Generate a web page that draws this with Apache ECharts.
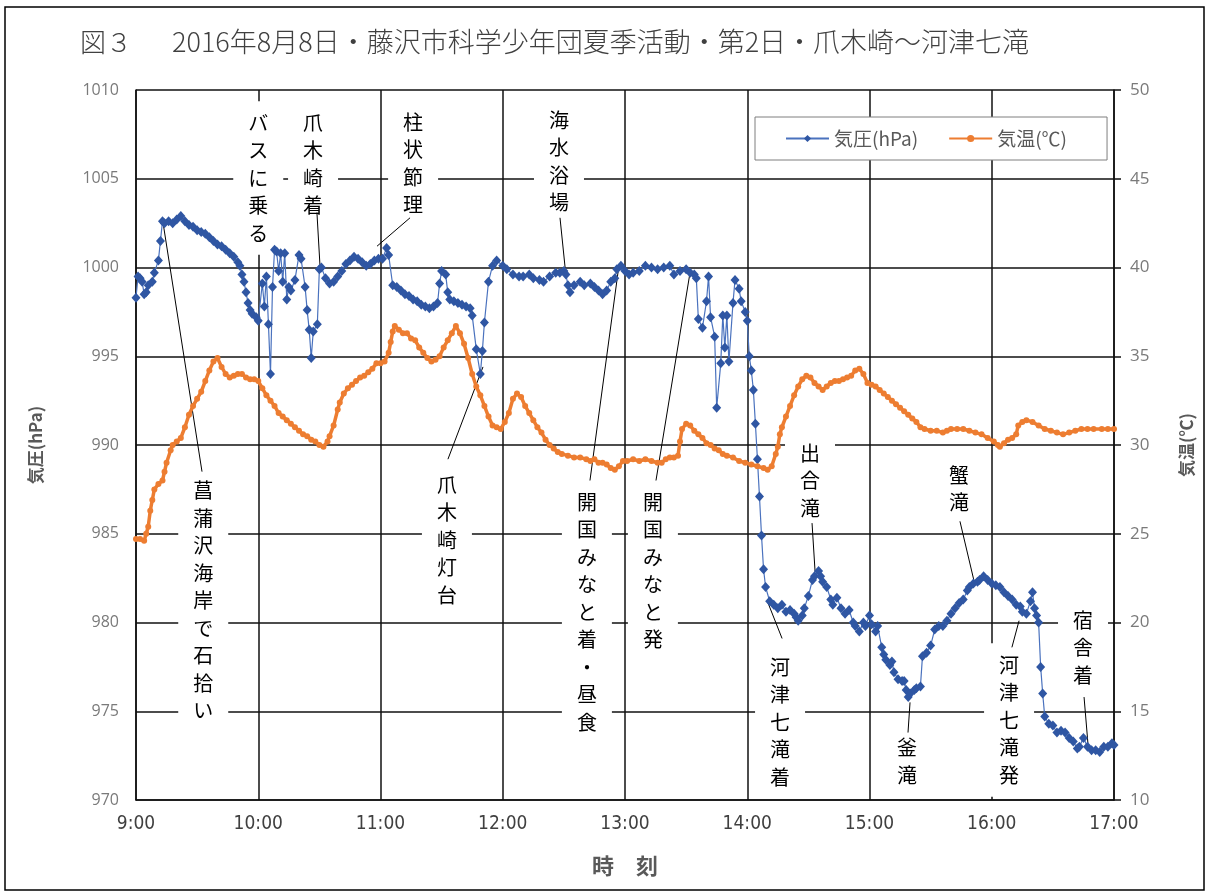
<!DOCTYPE html>
<html>
<head>
<meta charset="utf-8">
<script src="https://cdn.jsdelivr.net/npm/echarts@6/dist/echarts.min.js"></script>
<style>
  html, body { margin: 0; padding: 0; background: #fff; }
  #chart { width: 1208px; height: 893px; }
</style>
</head>
<body>
<div id="chart"></div>
<script>
// Time axis: minutes after 9:00
const xTickLabels = ['9:00', '10:00', '11:00', '12:00', '13:00', '14:00', '15:00', '16:00', '17:00'];

// 気圧 (hPa)
const pressureMin = [
  0, 1, 2, 3, 4, 5, 6, 8, 9, 11, 12, 13, 14, 16, 18, 20, 22, 24, 26, 28, 30, 32, 34, 36, 38, 40, 42, 44, 46, 48,
  50, 51, 52, 53, 54, 55, 56, 57, 59, 60, 62, 63, 64, 65, 66, 67, 68, 69, 70, 71, 72, 73, 74, 75, 76, 78, 80, 81,
  83, 84, 85, 86, 87, 89, 90, 91, 93, 95, 97, 99, 101, 103, 105, 107, 109, 111, 113, 115, 117, 119, 121, 123, 124,
  126, 128, 130, 132, 134, 136, 138, 140, 142, 144, 146, 148, 149, 150, 152, 153, 154, 156, 158, 160, 162, 164,
  165, 167, 169, 170, 171, 173, 175, 177, 180, 182, 185, 188, 190, 193, 195, 198, 200, 203, 206, 208, 210, 211,
  212, 213, 215, 218, 220, 223, 225, 227, 229, 231, 233, 235, 236, 238, 240, 242, 244, 247, 250, 253, 256, 259,
  262, 264, 267, 270, 272, 274, 275, 276, 278, 280, 281, 282, 284, 285, 287, 288, 289, 290, 291, 293, 294, 296,
  297, 299, 300, 301, 302, 303, 304, 305, 306, 307, 308, 309, 311, 313, 315, 317, 319, 321, 323, 324, 325, 327,
  328, 330, 332, 333, 335, 336, 337, 339, 341, 342, 344, 346, 348, 350, 352, 353, 355, 357, 358, 360, 361, 363,
  364, 366, 367, 368, 370, 371, 372, 374, 376, 377, 378, 379, 380, 382, 383, 385, 386, 388, 390, 392, 394, 396,
  398, 400, 402, 404, 406, 408, 409, 411, 413, 414, 416, 418, 420, 422, 424, 426, 428, 430, 432, 434, 435, 437,
  439, 440, 441, 442, 443, 444, 445, 446, 448, 450, 452, 454, 456, 458, 460, 462, 463, 465, 467, 469, 471, 473,
  475, 477, 479, 480
];
const pressureHpa = [
  998.3, 999.5, 999.4, 999.2, 998.5, 998.6, 999.0, 999.2, 999.7, 1000.4, 1001.5, 1002.6, 1002.5, 1002.6, 1002.5,
  1002.7, 1002.9, 1002.6, 1002.4, 1002.3, 1002.1, 1002.0, 1001.9, 1001.7, 1001.5, 1001.3, 1001.2, 1001.0, 1000.8,
  1000.6, 1000.3, 1000.1, 999.6, 999.2, 998.6, 998.0, 997.6, 997.4, 997.2, 997.0, 999.1, 997.8, 999.5, 996.8,
  994.0, 998.9, 1001.0, 1000.9, 999.8, 1000.8, 999.2, 1000.8, 998.2, 998.9, 998.7, 999.3, 1000.7, 1000.5, 998.9,
  997.6, 996.5, 994.9, 996.4, 996.8, 999.9, 1000.0, 999.4, 999.1, 999.2, 999.5, 999.8, 1000.2, 1000.4, 1000.6,
  1000.5, 1000.3, 1000.1, 1000.2, 1000.4, 1000.5, 1000.5, 1001.1, 1000.7, 999.0, 998.9, 998.7, 998.5, 998.4,
  998.2, 998.1, 997.9, 997.8, 997.7, 997.8, 998.0, 999.1, 999.8, 999.6, 998.6, 998.2, 998.1, 998.0, 997.9,
  997.8, 997.7, 997.3, 995.4, 994.0, 995.3, 996.9, 999.2, 1000.1, 1000.4, 1000.1, 999.9, 999.6, 999.5, 999.5,
  999.6, 999.4, 999.3, 999.2, 999.5, 999.7, 999.7, 999.8, 999.6, 999.0, 998.6, 999.0, 999.2, 999.0, 999.1,
  998.9, 998.7, 998.5, 998.7, 999.2, 999.4, 999.9, 1000.1, 999.8, 999.6, 999.7, 999.8, 1000.1, 1000.0, 999.9,
  1000.0, 1000.1, 999.6, 999.8, 999.9, 999.7, 999.6, 999.4, 997.1, 996.6, 998.1, 999.5, 997.2, 996.1, 992.1,
  994.6, 997.3, 995.5, 997.3, 994.7, 998.0, 999.3, 998.8, 998.1, 997.5, 997.0, 995.0, 994.2, 993.1, 991.2,
  989.2, 987.1, 984.9, 983.0, 982.0, 981.2, 981.0, 980.8, 981.0, 980.6, 980.7, 980.5, 980.3, 980.1, 980.4,
  980.8, 981.5, 982.4, 982.6, 982.9, 982.6, 982.3, 982.0, 981.3, 981.0, 981.4, 980.8, 980.5, 980.7, 980.0,
  979.8, 979.5, 980.0, 979.8, 980.4, 979.9, 979.5, 979.8, 978.6, 978.2, 977.9, 977.6, 977.8, 977.2, 976.8,
  976.7, 976.7, 976.2, 975.8, 976.0, 976.2, 976.3, 976.4, 978.1, 978.3, 978.7, 979.6, 979.8, 979.8, 980.1,
  980.5, 980.8, 981.1, 981.3, 981.8, 982.0, 982.2, 982.3, 982.4, 982.6, 982.4, 982.2, 982.1, 982.0, 981.7,
  981.5, 981.3, 981.0, 980.9, 980.6, 980.5, 981.2, 981.7, 980.8, 980.4, 980.0, 977.5, 976.0, 974.7, 974.3,
  974.2, 973.8, 973.9, 973.8, 973.5, 973.3, 972.9, 973.0, 973.5, 973.0, 972.8, 972.8, 972.7, 973.0, 973.0,
  973.2, 973.1, 973.1
];

// 気温 (℃)
const tempMin = [
  0, 2, 4, 5, 6, 7, 8, 9, 11, 13, 14, 15, 17, 18, 20, 22, 24, 26, 28, 30, 32, 34, 36, 38, 40, 42, 44, 46, 48, 50,
  52, 54, 56, 58, 60, 62, 64, 66, 68, 70, 72, 74, 76, 78, 80, 82, 84, 86, 88, 90, 92, 94, 95, 97, 99, 100, 102,
  104, 106, 108, 110, 112, 114, 116, 118, 120, 122, 124, 125, 126, 127, 129, 131, 133, 135, 137, 139, 141, 143,
  145, 147, 149, 151, 153, 155, 157, 159, 161, 163, 165, 167, 169, 171, 173, 175, 177, 179, 181, 183, 185, 187,
  189, 191, 193, 195, 197, 199, 201, 203, 205, 207, 209, 212, 215, 218, 221, 223, 225, 227, 229, 231, 233, 235,
  237, 239, 241, 244, 247, 250, 253, 256, 258, 260, 262, 264, 266, 267, 268, 270, 272, 274, 276, 278, 280, 282,
  284, 286, 288, 290, 293, 296, 299, 302, 305, 308, 310, 312, 314, 315, 316, 317, 319, 321, 323, 325, 327, 329,
  331, 333, 335, 337, 339, 341, 343, 345, 347, 349, 351, 353, 355, 357, 359, 361, 363, 365, 367, 369, 371, 373,
  375, 377, 379, 381, 383, 385, 387, 390, 393, 396, 398, 400, 403, 406, 409, 412, 415, 418, 421, 423, 424, 426,
  428, 430, 432, 433, 435, 437, 440, 443, 446, 449, 452, 455, 458, 461, 464, 467, 470, 474, 477, 480
];
const tempC = [
  24.7, 24.7, 24.6, 25.0, 25.4, 26.3, 26.9, 27.5, 27.8, 28.0, 28.5, 29.0, 29.7, 30.0, 30.2, 30.4, 31.0, 31.7,
  32.2, 32.6, 33.0, 33.6, 34.2, 34.7, 34.9, 34.4, 34.0, 33.8, 33.9, 34.0, 34.0, 33.8, 33.7, 33.7, 33.6, 33.2,
  32.8, 32.5, 32.2, 31.8, 31.6, 31.4, 31.2, 31.0, 30.8, 30.6, 30.5, 30.3, 30.2, 30.0, 29.9, 30.2, 30.5, 31.1,
  32.0, 32.4, 32.9, 33.2, 33.4, 33.6, 33.8, 33.9, 34.1, 34.3, 34.6, 34.6, 34.7, 35.2, 35.8, 36.4, 36.7, 36.5,
  36.3, 36.3, 36.0, 35.9, 35.5, 35.2, 34.9, 34.7, 34.8, 35.0, 35.5, 35.9, 36.3, 36.7, 36.3, 35.7, 34.9, 34.0,
  33.3, 32.8, 32.2, 31.6, 31.1, 31.0, 30.9, 31.3, 31.8, 32.6, 32.9, 32.7, 32.2, 31.8, 31.4, 31.0, 30.7, 30.3,
  30.0, 29.8, 29.6, 29.5, 29.4, 29.3, 29.3, 29.2, 29.1, 29.2, 29.0, 29.0, 28.9, 28.7, 28.6, 28.8, 29.1, 29.1,
  29.2, 29.1, 29.2, 29.1, 29.0, 29.0, 29.2, 29.3, 29.3, 29.4, 30.2, 30.9, 31.2, 31.1, 30.8, 30.6, 30.4, 30.1,
  30.0, 29.8, 29.7, 29.5, 29.4, 29.3, 29.1, 29.0, 28.9, 28.8, 28.7, 28.6, 28.8, 29.5, 29.9, 30.6, 31.0, 31.6,
  32.2, 32.8, 33.3, 33.7, 33.9, 33.8, 33.5, 33.3, 33.1, 33.3, 33.5, 33.6, 33.6, 33.7, 33.8, 33.9, 34.2, 34.3,
  34.0, 33.5, 33.4, 33.3, 33.1, 32.9, 32.7, 32.5, 32.3, 32.1, 31.9, 31.7, 31.5, 31.3, 31.0, 30.9, 30.8, 30.8,
  30.7, 30.8, 30.9, 30.9, 30.9, 30.8, 30.7, 30.6, 30.4, 30.2, 30.0, 29.9, 30.1, 30.3, 30.4, 30.6, 31.1, 31.3,
  31.4, 31.3, 31.1, 30.9, 30.8, 30.7, 30.6, 30.7, 30.8, 30.9, 30.9, 30.9, 30.9, 30.9, 30.9
];

// Event notes: text, top-centre of the vertical label [min, hPa], leader line [from, to]
const notes = [
  { text: '菖蒲沢海岸で石拾い', at: [33, 988.0], leader: [[32.4, 988.5], [13.3, 1002.5]] },
  { text: 'バスに乗る', at: [60, 1008.7], leader: null },
  { text: '爪木崎着', at: [86.9, 1008.7], leader: [[88.8, 1003.1], [90.3, 1000.1]] },
  { text: '柱状節理', at: [136, 1008.76], leader: [[134.5, 1002.8], [118.3, 1001.2]] },
  { text: '海水浴場', at: [207.6, 1008.87], leader: [[208.1, 1002.8], [210.6, 1000.0]] },
  { text: '爪木崎灯台', at: [152.6, 988.3], leader: [[153.1, 989.2], [170.3, 994.4]] },
  { text: '開国みなと着・昼食', at: [221.3, 987.35], leader: [[222.8, 988.0], [236.6, 999.75]] },
  { text: '開国みなと発', at: [253.7, 987.35], leader: [[255.2, 988.0], [271.9, 999.7]] },
  { text: '出合滝', at: [330.8, 990.1], leader: [[331.8, 985.6], [333.3, 982.85]] },
  { text: '河津七滝着', at: [316.1, 978.06], leader: [[317.1, 979.1], [310.2, 981.1]] },
  { text: '釜滝', at: [378.4, 973.5], leader: [[378.9, 973.8], [379.9, 975.5]] },
  { text: '蟹滝', at: [403.9, 988.87], leader: [[404.4, 985.7], [411.8, 982.1]] },
  { text: '河津七滝発', at: [428.5, 978.17], leader: [[429.9, 978.6], [433.4, 980.1]] },
  { text: '宿舎着', at: [464.8, 980.7], leader: [[465.3, 975.8], [467.2, 973.2]] }
];

const CJK = "'Noto Sans CJK JP', 'Noto Sans', sans-serif";
const NUM = "'Open Sans', 'Noto Sans', sans-serif";
const gridLine = { color: '#111', width: 1.5 };

const zip = (xs, ys) => xs.map((x, i) => [x, ys[i]]);

const chart = echarts.init(document.getElementById('chart'), null, { renderer: 'canvas' });

chart.setOption({
  animation: false,
  backgroundColor: '#fff',
  grid: { left: 136, right: 94, top: 90, bottom: 93, containLabel: false },
  legend: {
    left: 755, top: 117,
    padding: [12, 40, 12, 30],
    backgroundColor: '#fff',
    borderColor: '#7f7f7f', borderWidth: 1,
    itemWidth: 43, itemHeight: 9, itemGap: 30,
    textStyle: { fontFamily: CJK, fontSize: 19, color: '#595959' },
    data: ['気圧(hPa)', '気温(℃)']
  },
  xAxis: {
    type: 'value', min: 0, max: 480, interval: 60,
    name: '時　刻', nameLocation: 'middle', nameGap: 55,
    nameTextStyle: { fontFamily: CJK, fontSize: 22, fontWeight: 'bold', color: '#595959' },
    axisLine: { show: true, lineStyle: gridLine },
    axisTick: { show: false },
    axisLabel: {
      margin: 15, fontFamily: "'Liberation Sans Narrow', 'DejaVu Sans Condensed', sans-serif",
      fontSize: 19, color: '#404040',
      formatter: v => xTickLabels[Math.round(v / 60)]
    },
    splitLine: { show: true, lineStyle: gridLine }
  },
  yAxis: [
    {
      type: 'value', min: 970, max: 1010, interval: 5, position: 'left',
      name: '気圧(hPa)', nameLocation: 'middle', nameGap: 92, nameRotate: 90,
      nameTextStyle: { fontFamily: CJK, fontSize: 17, fontWeight: 'bold', color: '#595959' },
      axisLine: { show: true, lineStyle: gridLine },
      axisTick: { show: false },
      axisLabel: { margin: 17, fontFamily: NUM, fontSize: 16, color: '#7a7a7a', formatter: v => String(v) },
      splitLine: { show: true, lineStyle: gridLine }
    },
    {
      type: 'value', min: 10, max: 50, interval: 5, position: 'right',
      name: '気温(℃)', nameLocation: 'middle', nameGap: 64, nameRotate: 90,
      nameTextStyle: { fontFamily: CJK, fontSize: 17, fontWeight: 'bold', color: '#595959' },
      axisLine: { show: true, lineStyle: gridLine },
      axisTick: { show: true, inside: false, length: 7, lineStyle: gridLine },
      axisLabel: { margin: 16, fontFamily: NUM, fontSize: 17, color: '#7a7a7a', formatter: v => String(v) },
      splitLine: { show: false }
    }
  ],
  series: [
    {
      name: '気圧(hPa)', type: 'line', yAxisIndex: 0,
      data: zip(pressureMin, pressureHpa),
      showSymbol: true, showAllSymbol: true,
      symbol: 'diamond', symbolSize: [9, 10],
      itemStyle: { color: '#2F56A3' },
      lineStyle: { color: '#4A72BE', width: 1.2 },
      emphasis: { disabled: true }
    },
    {
      name: '気温(℃)', type: 'line', yAxisIndex: 1,
      data: zip(tempMin, tempC),
      showSymbol: true, showAllSymbol: true,
      symbol: 'circle', symbolSize: 6,
      itemStyle: { color: '#ED7D31' },
      lineStyle: { color: '#ED7D31', width: 3.5 },
      emphasis: { disabled: true }
    }
  ]
});

// Title, frame and the vertical event labels with their leader lines
const FS = 20, LH = 27.5;
const toPx = p => chart.convertToPixel({ xAxisIndex: 0, yAxisIndex: 0 }, p);
const graphics = [
  { type: 'rect', z: 0, silent: true, shape: { x: 5, y: 7, width: 1199, height: 883 },
    style: { fill: 'none', stroke: '#000', lineWidth: 1.5 } },
  { type: 'text', z: 5, left: 80, top: 29,
    style: { text: '図３', font: `300 26px ${CJK}`, fill: '#404040' } },
  { type: 'text', z: 5, left: 172, top: 28,
    style: { text: '2016年8月8日・藤沢市科学少年団夏季活動・第2日・爪木崎～河津七滝', font: `300 27px ${CJK}`, fill: '#404040' } }
];
notes.forEach(n => {
  const [cx, ty] = toPx(n.at);
  graphics.push({
    type: 'text', z: 1, silent: true,
    style: {
      text: n.text.split('').join('\n'),
      x: cx, y: ty - (LH - FS) / 2 - 8,
      align: 'center', verticalAlign: 'top',
      font: `${FS}px ${CJK}`, lineHeight: LH, fill: '#000',
      backgroundColor: '#fff', padding: [8, 15]
    }
  });
  if (n.leader) {
    const a = toPx(n.leader[0]), b = toPx(n.leader[1]);
    graphics.push({
      type: 'line', z: 3, silent: true,
      shape: { x1: a[0], y1: a[1], x2: b[0], y2: b[1] },
      style: { stroke: '#000', lineWidth: 1 }
    });
  }
});
chart.setOption({ graphic: graphics });
</script>
</body>
</html>
